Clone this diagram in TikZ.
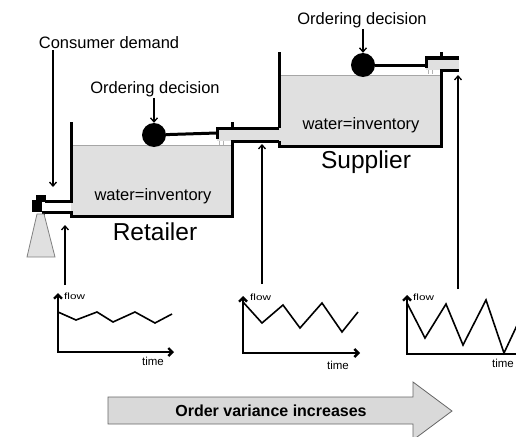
\documentclass[tikz,border=0pt]{standalone}
\usepackage{fontspec}
\setmainfont{Liberation Sans}
\usetikzlibrary{arrows.meta}
\definecolor{water}{gray}{0.88}
\definecolor{bigarrow}{gray}{0.85}
\begin{document}
\begin{tikzpicture}[x=1pt,y=-1pt,
  wall/.style={line width=3pt, line join=miter},
  arr/.style={line width=1.3pt, -{Straight Barb[length=4pt,width=7pt,line width=1.3pt]}},
  axis/.style={line width=2.4pt, {Straight Barb[length=4pt,width=8pt]}-{Straight Barb[length=4pt,width=8pt]}},
  zig/.style={line width=1.6pt, line join=miter},
  label/.style={font=\fontsize{16.5}{18}\selectfont, inner sep=1pt},
  title/.style={font=\fontsize{24.5}{26}\selectfont, inner sep=1pt},
  flowlab/.style={font=\fontsize{9}{10}\selectfont, anchor=west, inner sep=0pt},
  timelab/.style={font=\fontsize{11.5}{12}\selectfont, inner sep=0pt},
  valve/.style={circle, fill=black, minimum size=24pt, inner sep=0pt}]
\clip (0,0) rectangle (516,436);

% ---- Retailer tank ----
\fill[water] (71,145) rectangle (232,216);
\draw[gray!70, line width=0.8pt] (71,145) -- (232,145);
% pipe between the tanks
\fill[water] (217,128) rectangle (279,141);
\draw[gray!60, line width=1pt] (219,141) -- (219,145) (223,141) -- (223,145);
\draw[wall] (71,122) -- (71,201) -- (45,201);
\draw[wall] (43,215) -- (43,212) -- (71,212) -- (71,216) -- (232,216) -- (232,141) -- (279,141) -- (279,146) -- (441,146) -- (441,70) -- (459,70);
\draw[wall] (232,122) -- (232,128);
\draw[wall] (217,139) -- (217,128) -- (279,128) -- (279,52);

% ---- Supplier tank ----
\fill[water] (279,75) rectangle (441,146);
\draw[gray!70, line width=0.8pt] (279,75) -- (441,75);
\fill[water] (426,58) rectangle (459,70);
\draw[gray!60, line width=1pt] (428,70) -- (428,74) (432,70) -- (432,74);
% redraw the walls over the water
\draw[wall] (279,128) -- (279,52);
\draw[wall] (279,141) -- (279,146) -- (441,146) -- (441,70) -- (459,70);
\draw[wall] (441,52) -- (441,58);
\draw[wall] (426,68) -- (426,58) -- (459,58);

% ---- Valves ----
\node[valve] (v1) at (154,135) {};
\node[valve] (v2) at (363,65) {};
\coordinate (p1) at (217,133);
\coordinate (p2) at (426,65);
\draw[wall] (v1) -- (p1);
\draw[wall] (v2) -- (p2);

% ---- Consumer outlet: tap and cone ----
\fill[black] (36,195) rectangle (46,202);
\fill[black] (32,200) rectangle (42,212);
\draw[gray, fill=water, line width=0.8pt] (37,214) -- (44,214) -- (55,257) -- (27,257) -- cycle;

% ---- Labels ----
\node[label] (cd) at (109,43) {Consumer demand};
\node[label] (od1) at (155,89) {Ordering decision};
\node[label] (od2) at (362,20) {Ordering decision};
\node[label] (w1) at (153,196) {water=inventory};
\node[label] (w2) at (361,125) {water=inventory};
\node[title] (ret) at (155,232) {Retailer};
\node[title] (sup) at (366,162) {Supplier};

\coordinate (dem) at (53,187);
\draw[arr] (dem |- cd.south) -- (dem);
\draw[arr] (od1.south -| v1) -- (v1.north);
\draw[arr] (od2.south -| v2) -- (v2.north);

% ---- Flow charts ----
\draw[axis] (58,293) -- (58,352) -- (174,352);
\draw[zig] (58,312) -- (76,320) -- (97,312) -- (113,322) -- (135,312) -- (155,323) -- (172,314);
\node[flowlab] (f1) at (64,296) {\scalebox{1.3}[1]{flow}};
\node[timelab] (t1) at (153,361) {time};

\draw[axis] (243,296) -- (243,353) -- (360,353);
\draw[zig] (243,302) -- (262,323) -- (283,305) -- (300,328) -- (322,303) -- (342,332) -- (358,312);
\node[flowlab] (f2) at (250,297) {\scalebox{1.3}[1]{flow}};
\node[timelab] (t2) at (338,365) {time};

\draw[axis] (407,295) -- (407,354) -- (530,354);
\draw[zig] (407,303) -- (425,338) -- (446,304) -- (463,345) -- (486,300) -- (504,353) -- (520,319);
\node[flowlab] (f3) at (413,297) {\scalebox{1.3}[1]{flow}};
\node[timelab] (t3) at (503,363) {time};

% flow arrows up to the pipes
\coordinate (a1) at (65,285);  \coordinate (b1) at (65,225);
\coordinate (a2) at (262,284); \coordinate (b2) at (262,144);
\coordinate (a3) at (458,289); \coordinate (b3) at (458,75);
\draw[arr] (a1) -- (b1);
\draw[arr] (a2) -- (b2);
\draw[arr] (a3) -- (b3);

% ---- Variance arrow ----
\draw[gray!80!black, fill=bigarrow, line width=0.8pt]
  (108,397) -- (413,397) -- (413,382) -- (452,411) -- (413,440) -- (413,424) -- (108,424) -- cycle;
\node[font=\fontsize{16}{18}\selectfont\bfseries] (ov) at (271,411) {Order variance increases};
\end{tikzpicture}
\end{document}
